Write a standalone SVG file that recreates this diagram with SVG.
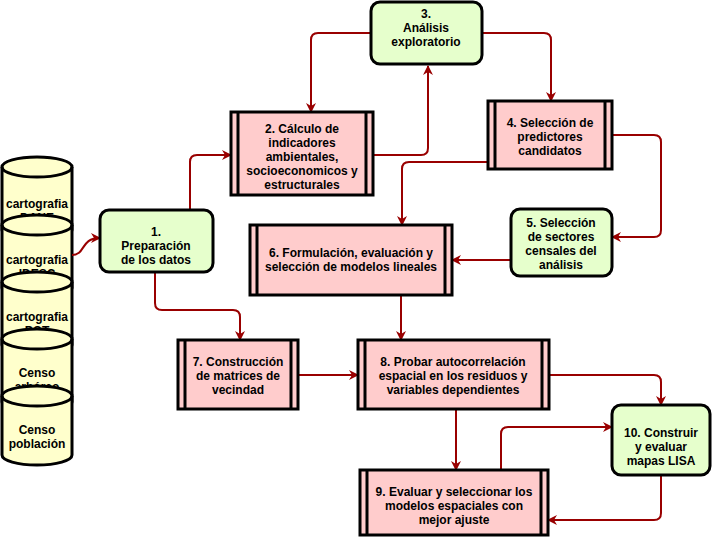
<svg xmlns="http://www.w3.org/2000/svg" width="713" height="540" viewBox="0 0 713 540">
<defs>
<marker id="a" viewBox="0 0 10 10" refX="9" refY="5" markerWidth="5" markerHeight="5" orient="auto"><path d="M0,0L10,5L0,10L3,5z" fill="#990000"/></marker>
<style>
text{font-family:"Liberation Sans",Arial,sans-serif;font-size:12px;font-weight:bold;text-anchor:middle;fill:#000}
.g{fill:#e6ffcc;stroke:#000;stroke-width:3}
.p{fill:#ffcccc;stroke:#000;stroke-width:3}
.l{stroke:#000;stroke-width:3;fill:none}
.c{fill:#ffffcc;stroke:#000;stroke-width:3}
.e{fill:none;stroke:#990000;stroke-width:2;stroke-linejoin:round;marker-end:url(#a)}
</style>
</defs>
<rect width="713" height="540" fill="#fff"/>
<g id="cylinders">
<g id="c1"><path class="c" d="M2,167A35,10 0 0 1 72,167V230A35,10 0 0 1 2,230Z"/><path class="l" d="M2,167A35,10 0 0 0 72,167"/><text x="37" y="208">cartografia</text><text x="37" y="222">DANE</text></g>
<g id="c2"><path class="c" d="M2,225A35,10 0 0 1 72,225V288A35,10 0 0 1 2,288Z"/><path class="l" d="M2,225A35,10 0 0 0 72,225"/><text x="37" y="264">cartografia</text><text x="37" y="278">IDESC</text></g>
<g id="c3"><path class="c" d="M2,282A35,10 0 0 1 72,282V345A35,10 0 0 1 2,345Z"/><path class="l" d="M2,282A35,10 0 0 0 72,282"/><text x="37" y="321">cartografia</text><text x="37" y="335">POT</text></g>
<g id="c4"><path class="c" d="M2,339A35,10 0 0 1 72,339V402A35,10 0 0 1 2,402Z"/><path class="l" d="M2,339A35,10 0 0 0 72,339"/><text x="37" y="377">Censo</text><text x="37" y="391">arbóreo</text></g>
<g id="c5"><path class="c" d="M2,396A35,10 0 0 1 72,396V455A35,10 0 0 1 2,455Z"/><path class="l" d="M2,396A35,10 0 0 0 72,396"/><text x="37" y="434">Censo</text><text x="37" y="448">población</text></g>
</g>
<g id="connectors">
<path class="e" d="M72,255C86,255 80,238 100,238"/>
<path class="e" d="M190,210V162Q190,155 197,155H231"/>
<path class="e" d="M155,272V303Q155,310 162,310H233Q240,310 240,317V340"/>
<path class="e" d="M373,155H421Q428,155 428,148V66"/>
<path class="e" d="M371,33H318Q311,33 311,40V112"/>
<path class="e" d="M482,33H544Q551,33 551,40V101"/>
<path class="e" d="M488,162H409Q402,162 402,169V225"/>
<path class="e" d="M612,135H654Q661,135 661,142V230Q661,237 654,237H612"/>
<path class="e" d="M511,260H452"/>
<path class="e" d="M401,295V340"/>
<path class="e" d="M298,375H358"/>
<path class="e" d="M549,375H654Q661,375 661,382V405"/>
<path class="e" d="M456,409V470"/>
<path class="e" d="M501,470V434Q501,427 508,427H612"/>
<path class="e" d="M661,475V513Q661,520 654,520H548"/>
</g>
<g id="n1"><rect class="g" x="100" y="210" width="113" height="62" rx="9"/><text x="156" y="236">1.</text><text x="156" y="250">Preparación</text><text x="156" y="264">de los datos</text></g>
<g id="n2"><rect class="p" x="231" y="112" width="142" height="83"/><path class="l" d="M238,112V195M366,112V195"/><text x="302" y="133">2. Cálculo de</text><text x="302" y="147">indicadores</text><text x="302" y="161">ambientales,</text><text x="302" y="175">socioeconomicos y</text><text x="302" y="189">estructurales</text></g>
<g id="n3"><rect class="g" x="371" y="2" width="111" height="62" rx="9"/><text x="426" y="18">3.</text><text x="426" y="32">Análisis</text><text x="426" y="46">exploratorio</text></g>
<g id="n4"><rect class="p" x="488" y="101" width="124" height="68"/><path class="l" d="M495,101V169M605,101V169"/><text x="550" y="127">4. Selección de</text><text x="550" y="141">predictores</text><text x="550" y="155">candidatos</text></g>
<g id="n5"><rect class="g" x="511" y="209" width="101" height="67" rx="9"/><text x="561" y="227">5. Selección</text><text x="561" y="241">de sectores</text><text x="561" y="255">censales del</text><text x="561" y="269">análisis</text></g>
<g id="n6"><rect class="p" x="250" y="225" width="202" height="70"/><path class="l" d="M257,225V295M445,225V295"/><text x="351" y="257">6. Formulación, evaluación y</text><text x="351" y="271">selección de modelos lineales</text></g>
<g id="n7"><rect class="p" x="178" y="340" width="120" height="69"/><path class="l" d="M185,340V409M291,340V409"/><text x="238" y="366">7. Construcción</text><text x="238" y="380">de matrices de</text><text x="238" y="394">vecindad</text></g>
<g id="n8"><rect class="p" x="358" y="340" width="191" height="69"/><path class="l" d="M365,340V409M542,340V409"/><text x="453" y="366">8. Probar autocorrelación</text><text x="453" y="380">espacial en los residuos y</text><text x="453" y="394">variables dependientes</text></g>
<g id="n9"><rect class="p" x="360" y="470" width="188" height="65"/><path class="l" d="M367,470V535M541,470V535"/><text x="454" y="496">9. Evaluar y seleccionar los</text><text x="454" y="510">modelos espaciales con</text><text x="454" y="524">mejor ajuste</text></g>
<g id="n10"><rect class="g" x="612" y="405" width="98" height="70" rx="9"/><text x="661" y="437">10. Construir</text><text x="661" y="451">y evaluar</text><text x="661" y="465">mapas LISA</text></g>
</svg>
